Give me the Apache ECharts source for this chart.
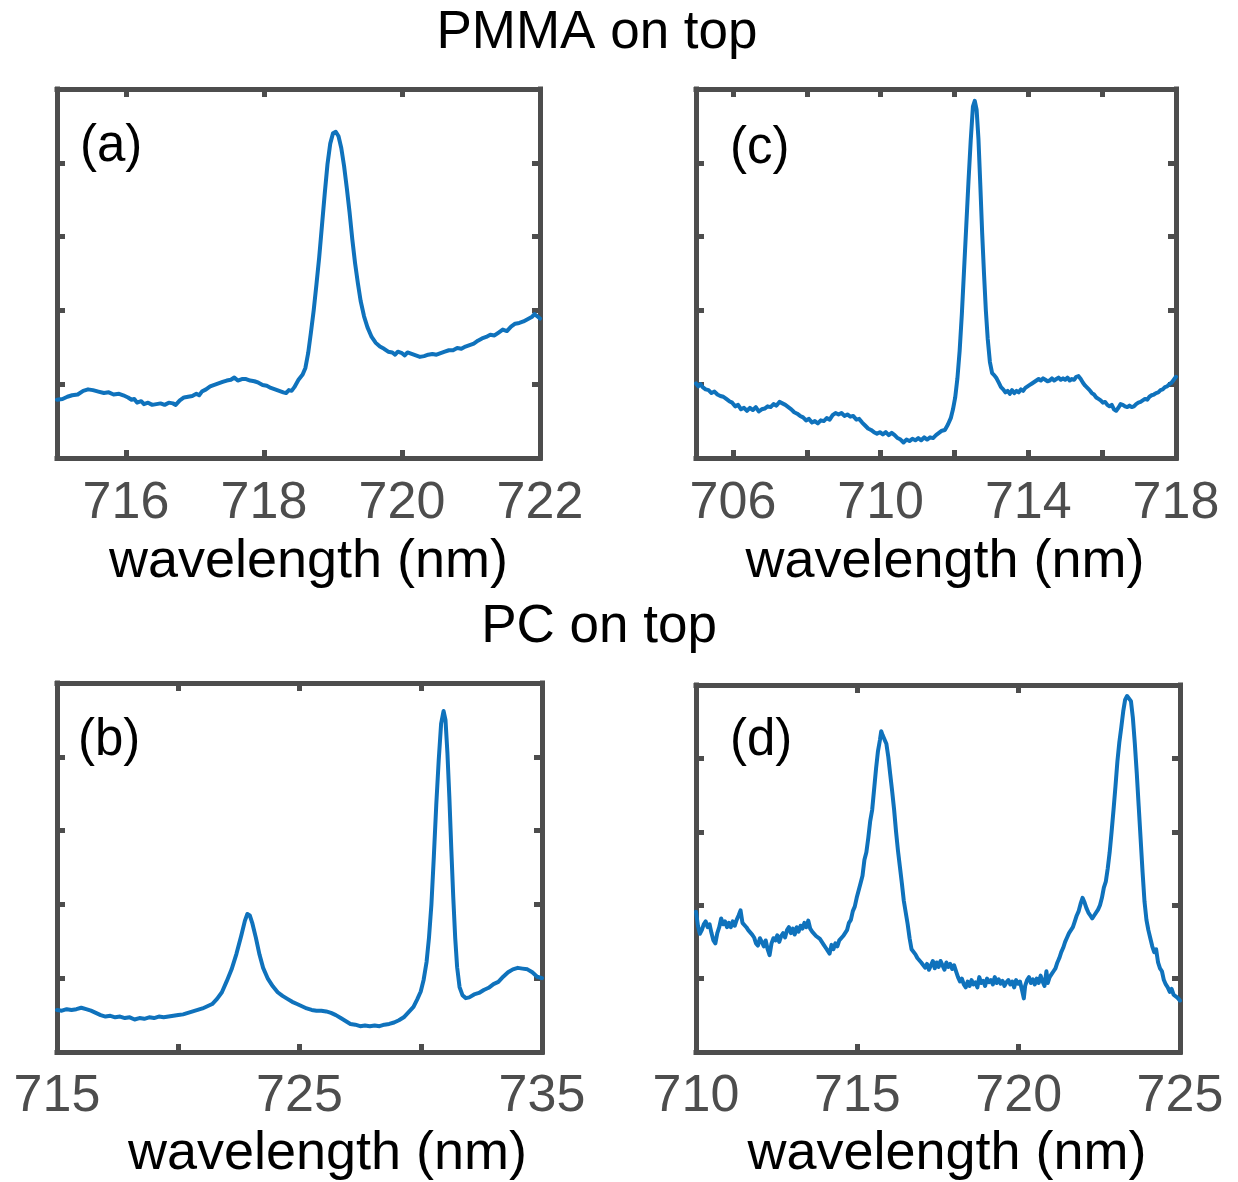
<!DOCTYPE html>
<html>
<head>
<meta charset="utf-8">
<script src="https://cdn.jsdelivr.net/npm/echarts@6/dist/echarts.min.js"></script>
<style>
html,body{margin:0;padding:0;background:#fff;}
#chart{width:1238px;height:1182px;}
</style>
</head>
<body>
<div id="chart"></div>
<script>
// ---- Data (wavelength nm, intensity a.u.) ----
const dataA = [[715.00,0.79],[715.08,0.80],[715.15,0.83],[715.22,0.85],[715.30,0.86],[715.38,0.91],[715.45,0.93],[715.52,0.92],[715.60,0.90],[715.68,0.88],[715.75,0.89],[715.82,0.86],[715.90,0.87],[715.96,0.85],[716.03,0.82],[716.08,0.79],[716.12,0.80],[716.16,0.75],[716.22,0.77],[716.26,0.73],[716.32,0.75],[716.38,0.72],[716.44,0.73],[716.50,0.74],[716.56,0.72],[716.62,0.75],[716.68,0.74],[716.72,0.72],[716.78,0.78],[716.84,0.82],[716.90,0.83],[716.96,0.84],[717.02,0.87],[717.06,0.85],[717.10,0.90],[717.16,0.93],[717.22,0.97],[717.28,0.99],[717.34,1.01],[717.40,1.03],[717.46,1.05],[717.52,1.06],[717.57,1.09],[717.62,1.05],[717.68,1.07],[717.74,1.07],[717.80,1.05],[717.86,1.04],[717.92,1.02],[717.98,0.99],[718.04,0.98],[718.10,0.95],[718.16,0.93],[718.22,0.91],[718.28,0.89],[718.32,0.88],[718.36,0.92],[718.40,0.91],[718.44,0.96],[718.50,1.06],[718.56,1.13],[718.60,1.22],[718.64,1.42],[718.68,1.70],[718.72,2.00],[718.76,2.35],[718.80,2.72],[718.84,3.15],[718.88,3.58],[718.92,3.98],[718.96,4.26],[719.00,4.40],[719.04,4.42],[719.08,4.36],[719.12,4.20],[719.16,3.96],[719.20,3.66],[719.24,3.33],[719.28,2.96],[719.32,2.64],[719.36,2.37],[719.40,2.13],[719.45,1.92],[719.50,1.77],[719.56,1.64],[719.62,1.56],[719.68,1.51],[719.74,1.48],[719.80,1.44],[719.86,1.43],[719.90,1.40],[719.94,1.44],[720.00,1.42],[720.04,1.39],[720.08,1.43],[720.14,1.41],[720.20,1.39],[720.26,1.37],[720.32,1.38],[720.38,1.40],[720.44,1.41],[720.50,1.40],[720.56,1.42],[720.62,1.44],[720.68,1.46],[720.74,1.46],[720.80,1.49],[720.86,1.48],[720.92,1.51],[720.98,1.53],[721.04,1.55],[721.10,1.59],[721.16,1.62],[721.22,1.64],[721.28,1.67],[721.34,1.66],[721.40,1.70],[721.46,1.74],[721.52,1.72],[721.58,1.78],[721.64,1.82],[721.70,1.83],[721.76,1.85],[721.82,1.88],[721.88,1.91],[721.92,1.95],[721.96,1.92],[722.00,1.89]];

const dataC = [[705.00,1.01],[705.06,0.97],[705.12,1.00],[705.18,0.96],[705.26,0.93],[705.34,0.92],[705.42,0.88],[705.50,0.90],[705.58,0.86],[705.66,0.84],[705.74,0.83],[705.82,0.80],[705.90,0.77],[705.98,0.75],[706.06,0.70],[706.14,0.72],[706.22,0.66],[706.30,0.68],[706.38,0.64],[706.46,0.68],[706.54,0.65],[706.62,0.69],[706.70,0.63],[706.78,0.66],[706.86,0.67],[706.94,0.70],[707.02,0.69],[707.10,0.73],[707.18,0.71],[707.26,0.76],[707.34,0.74],[707.42,0.72],[707.50,0.69],[707.58,0.66],[707.66,0.62],[707.74,0.60],[707.82,0.57],[707.90,0.55],[707.98,0.51],[708.06,0.53],[708.14,0.48],[708.22,0.50],[708.30,0.47],[708.38,0.51],[708.46,0.50],[708.54,0.54],[708.62,0.52],[708.70,0.58],[708.78,0.61],[708.86,0.59],[708.94,0.61],[709.02,0.57],[709.10,0.59],[709.18,0.56],[709.26,0.57],[709.34,0.52],[709.42,0.53],[709.50,0.48],[709.58,0.44],[709.66,0.40],[709.74,0.38],[709.82,0.35],[709.90,0.33],[709.98,0.35],[710.06,0.32],[710.14,0.35],[710.22,0.31],[710.30,0.34],[710.38,0.31],[710.46,0.27],[710.54,0.25],[710.62,0.21],[710.70,0.25],[710.78,0.23],[710.86,0.26],[710.94,0.24],[711.02,0.27],[711.10,0.24],[711.18,0.28],[711.26,0.25],[711.34,0.28],[711.42,0.27],[711.50,0.31],[711.58,0.34],[711.66,0.37],[711.74,0.38],[711.82,0.45],[711.90,0.54],[711.96,0.66],[712.02,0.82],[712.08,1.08],[712.14,1.45],[712.20,1.95],[712.26,2.55],[712.32,3.15],[712.38,3.75],[712.44,4.30],[712.50,4.76],[712.55,4.84],[712.60,4.72],[712.65,4.32],[712.70,3.70],[712.75,3.05],[712.80,2.50],[712.85,2.00],[712.90,1.62],[712.96,1.30],[713.02,1.15],[713.08,1.12],[713.14,1.08],[713.20,1.02],[713.26,0.96],[713.32,0.93],[713.38,0.89],[713.44,0.91],[713.50,0.87],[713.56,0.92],[713.62,0.88],[713.68,0.91],[713.74,0.89],[713.80,0.93],[713.86,0.91],[713.92,0.95],[713.98,0.97],[714.04,0.99],[714.10,1.01],[714.16,1.03],[714.22,1.05],[714.28,1.07],[714.34,1.05],[714.40,1.08],[714.46,1.06],[714.52,1.04],[714.58,1.05],[714.64,1.08],[714.70,1.05],[714.76,1.07],[714.82,1.09],[714.88,1.06],[714.94,1.08],[715.00,1.06],[715.06,1.09],[715.12,1.05],[715.18,1.07],[715.24,1.06],[715.30,1.10],[715.36,1.11],[715.42,1.07],[715.48,1.02],[715.54,0.98],[715.60,0.95],[715.66,0.92],[715.72,0.88],[715.78,0.86],[715.84,0.82],[715.90,0.80],[715.96,0.78],[716.02,0.75],[716.08,0.76],[716.14,0.72],[716.20,0.70],[716.26,0.72],[716.32,0.66],[716.38,0.64],[716.44,0.68],[716.50,0.73],[716.56,0.72],[716.62,0.70],[716.68,0.69],[716.74,0.71],[716.80,0.69],[716.86,0.70],[716.92,0.73],[716.98,0.75],[717.04,0.76],[717.10,0.78],[717.16,0.80],[717.22,0.79],[717.28,0.83],[717.34,0.85],[717.40,0.86],[717.46,0.88],[717.52,0.89],[717.58,0.92],[717.64,0.93],[717.70,0.96],[717.76,0.97],[717.82,1.00],[717.88,1.02],[717.94,1.06],[718.00,1.10]];

const dataB = [[715.00,0.57],[715.20,0.56],[715.40,0.58],[715.60,0.57],[715.80,0.58],[716.00,0.60],[716.20,0.58],[716.40,0.56],[716.60,0.53],[716.80,0.50],[717.00,0.48],[717.20,0.49],[717.40,0.47],[717.60,0.48],[717.80,0.46],[718.00,0.47],[718.20,0.44],[718.40,0.46],[718.60,0.45],[718.80,0.47],[719.00,0.46],[719.20,0.48],[719.40,0.47],[719.60,0.48],[719.80,0.49],[720.00,0.50],[720.20,0.51],[720.40,0.53],[720.60,0.55],[720.80,0.57],[721.00,0.59],[721.20,0.62],[721.40,0.65],[721.60,0.72],[721.80,0.81],[722.00,0.96],[722.20,1.12],[722.40,1.33],[722.60,1.58],[722.75,1.78],[722.85,1.87],[722.95,1.85],[723.05,1.75],[723.20,1.55],[723.35,1.32],[723.50,1.14],[723.70,0.99],[723.90,0.89],[724.10,0.81],[724.30,0.76],[724.50,0.72],[724.70,0.68],[724.90,0.65],[725.10,0.62],[725.30,0.59],[725.50,0.57],[725.70,0.56],[725.90,0.56],[726.10,0.55],[726.30,0.53],[726.50,0.50],[726.70,0.46],[726.90,0.42],[727.10,0.38],[727.30,0.37],[727.50,0.35],[727.70,0.36],[727.90,0.35],[728.10,0.36],[728.30,0.35],[728.50,0.37],[728.70,0.38],[728.90,0.40],[729.10,0.43],[729.30,0.47],[729.50,0.54],[729.70,0.61],[729.85,0.71],[730.00,0.82],[730.12,0.98],[730.24,1.22],[730.34,1.55],[730.44,2.00],[730.54,2.65],[730.64,3.35],[730.74,3.95],[730.84,4.45],[730.94,4.62],[731.02,4.50],[731.10,4.05],[731.18,3.45],[731.26,2.75],[731.34,2.10],[731.42,1.55],[731.50,1.15],[731.60,0.88],[731.72,0.77],[731.86,0.73],[732.00,0.74],[732.20,0.78],[732.40,0.80],[732.60,0.84],[732.80,0.87],[733.00,0.92],[733.20,0.95],[733.40,1.02],[733.60,1.08],[733.80,1.12],[734.00,1.14],[734.20,1.13],[734.40,1.12],[734.60,1.08],[734.80,1.02],[735.00,1.00]];

const dataD = [[710.00,1.91],[710.06,1.72],[710.12,1.61],[710.18,1.66],[710.24,1.74],[710.30,1.78],[710.36,1.70],[710.42,1.74],[710.48,1.62],[710.54,1.52],[710.60,1.48],[710.66,1.62],[710.72,1.70],[710.78,1.82],[710.84,1.74],[710.90,1.78],[710.96,1.70],[711.02,1.76],[711.08,1.70],[711.14,1.78],[711.20,1.72],[711.26,1.80],[711.32,1.86],[711.38,1.93],[711.44,1.76],[711.50,1.74],[711.56,1.70],[711.62,1.66],[711.68,1.68],[711.74,1.60],[711.80,1.56],[711.86,1.48],[711.92,1.45],[711.98,1.55],[712.04,1.50],[712.10,1.44],[712.16,1.52],[712.22,1.40],[712.28,1.32],[712.34,1.48],[712.40,1.55],[712.46,1.52],[712.52,1.59],[712.58,1.50],[712.64,1.58],[712.70,1.62],[712.76,1.56],[712.82,1.66],[712.88,1.70],[712.94,1.62],[713.00,1.68],[713.06,1.60],[713.12,1.70],[713.18,1.64],[713.24,1.72],[713.30,1.68],[713.36,1.76],[713.42,1.70],[713.48,1.79],[713.54,1.68],[713.60,1.64],[713.66,1.62],[713.72,1.58],[713.78,1.60],[713.84,1.54],[713.90,1.50],[713.96,1.46],[714.02,1.42],[714.08,1.38],[714.14,1.34],[714.20,1.46],[714.26,1.40],[714.32,1.48],[714.38,1.44],[714.44,1.52],[714.50,1.50],[714.56,1.58],[714.62,1.62],[714.68,1.66],[714.74,1.76],[714.80,1.80],[714.86,1.92],[714.92,1.98],[714.98,2.10],[715.04,2.20],[715.10,2.30],[715.16,2.40],[715.22,2.62],[715.28,2.72],[715.34,2.92],[715.40,3.15],[715.46,3.30],[715.52,3.58],[715.58,3.86],[715.64,4.10],[715.70,4.25],[715.74,4.37],[715.78,4.32],[715.84,4.30],[715.90,4.20],[715.96,4.02],[716.02,3.78],[716.08,3.55],[716.14,3.30],[716.20,3.00],[716.26,2.74],[716.32,2.52],[716.38,2.30],[716.44,2.06],[716.50,1.90],[716.56,1.74],[716.62,1.55],[716.68,1.40],[716.74,1.38],[716.80,1.33],[716.86,1.28],[716.92,1.30],[716.98,1.22],[717.04,1.24],[717.10,1.15],[717.16,1.20],[717.22,1.12],[717.28,1.18],[717.34,1.24],[717.40,1.14],[717.46,1.22],[717.52,1.16],[717.58,1.24],[717.64,1.18],[717.70,1.12],[717.76,1.22],[717.82,1.16],[717.88,1.20],[717.94,1.13],[718.00,1.18],[718.06,1.10],[718.12,1.02],[718.18,0.96],[718.24,1.00],[718.30,0.92],[718.36,0.88],[718.42,0.96],[718.48,0.90],[718.54,0.98],[718.60,0.92],[718.66,0.95],[718.72,0.88],[718.78,1.02],[718.84,0.94],[718.90,0.97],[718.96,0.90],[719.02,1.00],[719.08,0.95],[719.14,0.98],[719.20,0.92],[719.26,1.02],[719.32,0.94],[719.38,0.99],[719.44,0.93],[719.50,0.97],[719.56,0.90],[719.62,0.95],[719.68,0.98],[719.74,0.92],[719.80,0.96],[719.86,0.88],[719.92,0.98],[719.98,0.93],[720.04,0.96],[720.10,0.85],[720.16,0.73],[720.20,0.90],[720.26,0.98],[720.32,1.02],[720.38,0.94],[720.44,0.99],[720.50,0.92],[720.56,1.00],[720.62,0.94],[720.68,1.04],[720.74,0.96],[720.80,0.90],[720.86,1.10],[720.90,0.94],[720.96,1.02],[721.02,1.06],[721.08,1.10],[721.14,1.14],[721.20,1.22],[721.26,1.28],[721.32,1.36],[721.38,1.42],[721.44,1.50],[721.50,1.56],[721.56,1.62],[721.62,1.66],[721.68,1.70],[721.74,1.78],[721.80,1.86],[721.86,1.92],[721.92,2.02],[721.98,2.10],[722.04,2.04],[722.10,1.96],[722.16,1.90],[722.22,1.86],[722.28,1.82],[722.34,1.86],[722.40,1.84],[722.46,1.94],[722.52,2.00],[722.58,2.10],[722.64,2.24],[722.70,2.32],[722.76,2.50],[722.82,2.72],[722.88,3.00],[722.94,3.30],[723.00,3.62],[723.06,3.96],[723.12,4.22],[723.18,4.42],[723.24,4.64],[723.30,4.80],[723.36,4.85],[723.42,4.84],[723.48,4.78],[723.54,4.55],[723.60,4.20],[723.66,3.80],[723.72,3.35],[723.78,2.90],[723.84,2.45],[723.90,2.05],[723.96,1.80],[724.02,1.66],[724.08,1.55],[724.14,1.44],[724.20,1.36],[724.26,1.40],[724.32,1.22],[724.38,1.14],[724.44,1.10],[724.50,0.98],[724.56,0.92],[724.62,0.88],[724.68,0.82],[724.74,0.86],[724.80,0.78],[724.86,0.80],[724.92,0.74],[725.00,0.70]];

// axis ranges and ticks
const rangeA = [715, 722], ticksA = [716, 718, 720, 722], labelsA = [716, 718, 720, 722];
const rangeC = [705, 718], ticksC = [706, 708, 710, 712, 714, 716, 718], labelsC = [706, 710, 714, 718];
const rangeB = [715, 735], ticksB = [715, 720, 725, 730, 735], labelsB = [715, 725, 735];
const rangeD = [710, 725], ticksD = [710, 715, 720, 725], labelsD = [710, 715, 720, 725];
const yTicks = [0, 1, 2, 3, 4, 5];

const titles = ['PMMA on top', 'PC on top'];
const panelLabels = ['(a)', '(c)', '(b)', '(d)'];
const xName = 'wavelength (nm)';

const FRAME = '#4d4d4d';
const BLUE = '#0f72bc';
const FONT = '"Liberation Sans", Arial, Helvetica, sans-serif';

const grids = [
  {left: 57, top: 89, width: 483, height: 369},
  {left: 696, top: 89, width: 480, height: 369},
  {left: 57, top: 683, width: 485, height: 371},
  {left: 696, top: 685, width: 484, height: 369}
];
const panels = [
  {range: rangeA, ticks: ticksA, labels: labelsA, data: dataA, margin: 20, nameGap: 77, nameShift: 10},
  {range: rangeC, ticks: ticksC, labels: labelsC, data: dataC, margin: 20, nameGap: 77, nameShift: 9},
  {range: rangeB, ticks: ticksB, labels: labelsB, data: dataB, margin: 19, nameGap: 75, nameShift: 28},
  {range: rangeD, ticks: ticksD, labels: labelsD, data: dataD, margin: 19, nameGap: 75, nameShift: 9}
];

const lineStyleFrame = {color: FRAME, width: 5, cap: 'square'};
const xAxes = [], yAxes = [], series = [];
panels.forEach((p, i) => {
  xAxes.push({
    gridIndex: i, type: 'value', position: 'bottom', min: p.range[0], max: p.range[1],
    axisLine: {show: true, onZero: false, lineStyle: lineStyleFrame},
    axisTick: {show: true, inside: true, length: 8, customValues: p.ticks, lineStyle: {color: FRAME, width: 5}},
    axisLabel: {show: true, customValues: p.labels, margin: p.margin, fontSize: 52, fontFamily: FONT, color: FRAME, showMinLabel: true, showMaxLabel: true},
    splitLine: {show: false},
    name: xName, nameLocation: 'middle', nameGap: p.nameGap,
    nameTextStyle: {fontSize: 54, fontFamily: FONT, color: '#000', padding: [0, 0, 0, 2 * p.nameShift]}
  });
  xAxes.push({
    gridIndex: i, type: 'value', position: 'top', min: p.range[0], max: p.range[1],
    axisLine: {show: true, onZero: false, lineStyle: lineStyleFrame},
    axisTick: {show: true, inside: true, length: 8, customValues: p.ticks, lineStyle: {color: FRAME, width: 5}},
    axisLabel: {show: false}, splitLine: {show: false}
  });
  yAxes.push({
    gridIndex: i, type: 'value', position: 'left', min: 0, max: 5,
    axisLine: {show: true, onZero: false, lineStyle: lineStyleFrame},
    axisTick: {show: true, inside: true, length: 8, customValues: yTicks, lineStyle: {color: FRAME, width: 5}},
    axisLabel: {show: false}, splitLine: {show: false}
  });
  yAxes.push({
    gridIndex: i, type: 'value', position: 'right', min: 0, max: 5,
    axisLine: {show: true, onZero: false, lineStyle: lineStyleFrame},
    axisTick: {show: true, inside: true, length: 8, customValues: yTicks, lineStyle: {color: FRAME, width: 5}},
    axisLabel: {show: false}, splitLine: {show: false}
  });
  series.push({
    type: 'line', xAxisIndex: i * 2, yAxisIndex: i * 2, data: p.data,
    showSymbol: false, symbol: 'none', smooth: false, clip: true,
    lineStyle: {color: BLUE, width: 4, join: 'round', cap: 'round'}, z: 1
  });
});

const textEl = (txt, x, y, size, align) => ({
  type: 'text', x: x, y: y, z: 100,
  style: {text: txt, fontSize: size, fontFamily: FONT, fill: '#000', align: align, verticalAlign: 'middle'}
});

const graphic = [
  textEl(titles[0], 597, 33, 53, 'center'),
  textEl(titles[1], 599, 627, 53, 'center'),
  textEl(panelLabels[0], 80, 147, 51, 'left'),
  textEl(panelLabels[1], 730, 149, 51, 'left'),
  textEl(panelLabels[2], 78, 741, 51, 'left'),
  textEl(panelLabels[3], 730, 741, 51, 'left')
];

const chart = echarts.init(document.getElementById('chart'), null, {renderer: 'canvas'});
chart.setOption({
  animation: false,
  backgroundColor: '#fff',
  grid: grids,
  xAxis: xAxes,
  yAxis: yAxes,
  series: series,
  graphic: graphic
});
</script>
</body>
</html>
